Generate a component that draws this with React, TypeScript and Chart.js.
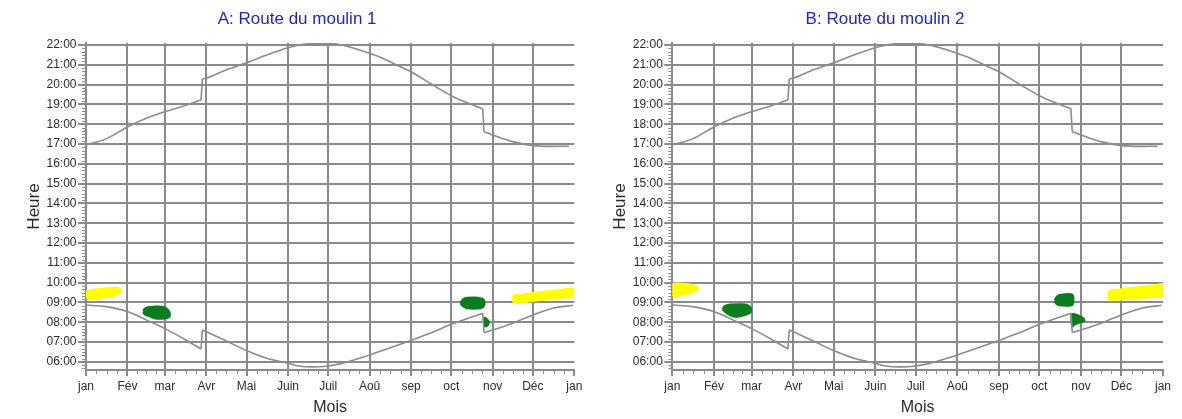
import React, { useEffect, useRef } from 'react';
import { Chart, registerables } from 'chart.js';

Chart.register(...registerables);

// ---- axis data ----
const monthStarts = [0, 31, 59, 90, 120, 151, 181, 212, 243, 273, 304, 334, 365];
const monthLabels = ['jan', 'Fév', 'mar', 'Avr', 'Mai', 'Juin', 'Juil', 'Aoû', 'sep', 'oct', 'nov', 'Déc', 'jan'];
const hourTicks = [6, 7, 8, 9, 10, 11, 12, 13, 14, 15, 16, 17, 18, 19, 20, 21, 22];

// ---- sun curves: [day of year, hour] ----
const sunset: [number, number][] = [
  [0, 16.95], [15, 17.26], [31, 17.86], [45, 18.3], [59, 18.63], [73, 18.92], [86, 19.22],
  [87, 20.28], [90, 20.33], [105, 20.75], [120, 21.1], [135, 21.49], [151, 21.86], [160, 22.0],
  [166, 22.06], [185, 22.06], [197, 21.9], [212, 21.58], [220, 21.38], [235, 20.9], [243, 20.65],
  [257, 20.07], [273, 19.44], [289, 18.97], [296.5, 18.78], [297.5, 17.62], [304, 17.46],
  [319, 17.12], [334, 16.92], [348, 16.88], [361, 16.89],
];

const sunrise: [number, number][] = [
  [0, 8.87], [15, 8.79], [31, 8.54], [45, 8.12], [59, 7.68], [73, 7.17], [86, 6.65],
  [87, 7.61], [90, 7.52], [105, 7.05], [120, 6.57], [135, 6.18], [151, 5.93], [160, 5.78],
  [170, 5.75], [178, 5.77], [190, 5.9], [197, 6.03], [212, 6.35], [228, 6.72], [244, 7.11],
  [258, 7.47], [274, 7.92], [296.5, 8.46], [297.5, 7.48], [304, 7.61], [319, 7.95],
  [334, 8.37], [349, 8.71], [364, 8.86],
];

// ---- shadow periods, panel A (outline [day, hour]) ----
const aYellowJan: [number, number][] = [
  [0.5, 9.22], [0.5, 9.55], [5, 9.62], [12, 9.68], [20, 9.72], [25, 9.7], [25.5, 9.5],
  [22, 9.38], [15, 9.3], [8, 9.2], [2, 9.17],
];
const aGreenFeb: [number, number][] = [
  [43, 8.55], [44, 8.68], [47, 8.76], [53, 8.78], [58, 8.76], [61, 8.62], [62.5, 8.45],
  [62, 8.27], [59, 8.2], [52, 8.2], [48, 8.3], [44, 8.4],
];
const aGreenOct: [number, number][] = [
  [280, 8.98], [282, 9.15], [285, 9.22], [293, 9.22], [297, 9.15], [297.5, 8.85],
  [295, 8.72], [285, 8.72], [282, 8.82],
];
const aGreenNov: [number, number][] = [
  [297.8, 8.25], [301, 8.02], [299, 7.8], [297.8, 7.85],
];
const aYellowDec: [number, number][] = [
  [319.5, 9.0], [319.5, 9.3], [323, 9.38], [330, 9.42], [338, 9.5], [346, 9.55], [354, 9.62],
  [365, 9.68], [365, 9.32], [355, 9.25], [345, 9.18], [335, 9.1], [327, 9.02], [321, 8.97],
];

// ---- shadow periods, panel B ----
const bYellowJan: [number, number][] = [
  [0.3, 9.3], [0.3, 9.9], [5, 9.95], [11, 9.92], [16, 9.85], [19.4, 9.72], [17, 9.58],
  [11, 9.45], [5, 9.35],
];
const bGreenFeb: [number, number][] = [
  [37.5, 8.65], [39, 8.8], [43, 8.88], [52, 8.9], [56, 8.85], [58.3, 8.7], [58, 8.5],
  [55, 8.4], [50, 8.3], [45, 8.32], [41, 8.45],
];
const bGreenOct: [number, number][] = [
  [284.5, 9.1], [286.5, 9.3], [289, 9.38], [297.5, 9.38], [297.7, 8.9], [295, 8.85],
  [288, 8.87], [285.5, 8.95],
];
const bGreenNov: [number, number][] = [
  [297, 8.42], [300, 8.38], [303, 8.3], [305.5, 8.2], [306.3, 8.08], [303, 8.0],
  [299.5, 7.9], [297.5, 7.82],
];
const bYellowDec: [number, number][] = [
  [325, 9.15], [325, 9.55], [330, 9.62], [337, 9.68], [345, 9.74], [353, 9.8],
  [360, 9.86], [365, 9.9], [365, 9.32], [357, 9.28], [348, 9.24], [339, 9.2], [331, 9.15],
  [327, 9.12],
];

const FONT = "'Liberation Sans', Arial, sans-serif";
const GRID = '#8a8a8a';
const CURVE = '#8c8c8c';
const TEXT = '#2a2a2a';
const YELLOW = '#ffff00';
const GREEN = '#0b7d1f';

const toXY = (pts: [number, number][]) => pts.map(([x, y]) => ({ x, y }));
const closed = (pts: [number, number][]) => toXY([...pts, pts[0]]);

// split a curve at its clock-change jumps: smooth pieces + straight jump pieces
function splitAtJumps(pts: [number, number][]) {
  const smooth: [number, number][][] = [];
  const jumps: [number, number][][] = [];
  let cur: [number, number][] = [pts[0]];
  for (let i = 1; i < pts.length; i++) {
    if (pts[i][0] - pts[i - 1][0] <= 1.5) {
      smooth.push(cur);
      jumps.push([pts[i - 1], pts[i]]);
      cur = [pts[i]];
    } else {
      cur.push(pts[i]);
    }
  }
  smooth.push(cur);
  return { smooth, jumps };
}

const minorTicks = {
  id: 'minorTicks',
  afterDraw(chart: any) {
    const { ctx, scales } = chart;
    const x = scales.x;
    const y = scales.y;
    ctx.save();
    ctx.strokeStyle = GRID;
    ctx.lineWidth = 1;
    ctx.beginPath();
    for (let m = 0; m < 12; m++) {
      const a = monthStarts[m];
      const b = monthStarts[m + 1];
      for (let k = 1; k < 4; k++) {
        const px = Math.round(x.getPixelForValue(a + ((b - a) * k) / 4)) + 0.5;
        ctx.moveTo(px, y.bottom);
        ctx.lineTo(px, y.bottom + 4);
      }
    }
    for (let h = 5; h <= 22; h++) {
      for (let k = 1; k < 6; k++) {
        const v = h + k / 6;
        if (v < y.min || v > y.max) continue;
        const py = Math.round(y.getPixelForValue(v)) + 0.5;
        ctx.moveTo(x.left - 4, py);
        ctx.lineTo(x.left, py);
      }
    }
    ctx.stroke();
    ctx.restore();
  },
};

function blob(pts: [number, number][], color: string) {
  return {
    data: closed(pts),
    borderColor: color,
    backgroundColor: color,
    borderWidth: 2.5,
    borderJoinStyle: 'round',
    fill: 'shape',
    pointRadius: 0,
    tension: 0.3,
  };
}

function curveSets(pts: [number, number][]) {
  const { smooth, jumps } = splitAtJumps(pts);
  const base = { borderColor: CURVE, borderWidth: 1.6, pointRadius: 0, fill: false };
  return [
    ...smooth.map((s) => ({ ...base, data: toXY(s), cubicInterpolationMode: 'monotone' })),
    ...jumps.map((j) => ({ ...base, data: toXY(j), tension: 0 })),
  ];
}

function makeConfig(
  title: string,
  blobs: { pts: [number, number][]; color: string }[],
  leftWidth: number,
  rightPad: number,
  heurePad: number,
): any {
  return {
    type: 'line',
    data: {
      datasets: [
        ...curveSets(sunset),
        ...curveSets(sunrise),
        ...blobs.map((b) => blob(b.pts, b.color)),
      ],
    },
    plugins: [minorTicks],
    options: {
      responsive: false,
      animation: false,
      events: [],
      layout: { padding: { left: 0, right: rightPad, top: 0, bottom: 0 } },
      plugins: {
        legend: { display: false },
        tooltip: { enabled: false },
        title: {
          display: true,
          text: title,
          color: '#2323c8',
          font: { family: FONT, size: 17, weight: 'normal' },
          padding: { top: 8.9, bottom: 13.7 },
        },
      },
      scales: {
        x: {
          type: 'linear',
          min: 0,
          max: 365,
          afterBuildTicks: (s: any) => {
            s.ticks = monthStarts.map((v) => ({ value: v }));
          },
          afterFit: (s: any) => {
            s.height = 49;
          },
          ticks: {
            autoSkip: false,
            maxRotation: 0,
            padding: 3,
            color: TEXT,
            font: { family: FONT, size: 12 },
            callback: (_v: any, i: number) => monthLabels[i],
          },
          grid: {
            color: (c: any) => (c.index === monthStarts.length - 1 ? 'rgba(0,0,0,0)' : GRID),
            tickColor: GRID,
            lineWidth: 2,
            tickLength: 6,
          },
          border: { display: true, color: GRID, width: 2 },
          title: {
            display: true,
            text: 'Mois',
            color: TEXT,
            font: { family: FONT, size: 16 },
            padding: { top: 0, bottom: 1.6 },
          },
        },
        y: {
          type: 'linear',
          min: 5.59,
          max: 22.1,
          afterBuildTicks: (s: any) => {
            s.ticks = hourTicks.map((v) => ({ value: v }));
          },
          afterFit: (s: any) => {
            s.width = leftWidth;
          },
          ticks: {
            padding: 1.5,
            color: TEXT,
            font: { family: FONT, size: 12 },
            callback: (v: any) => String(v).padStart(2, '0') + ':00',
          },
          grid: { color: GRID, lineWidth: 2, tickLength: 8 },
          border: { display: true, color: GRID, width: 2 },
          title: {
            display: true,
            text: 'Heure',
            color: TEXT,
            font: { family: FONT, size: 17 },
            padding: { top: heurePad, bottom: 0 },
          },
        },
      },
    },
  };
}

export default function App() {
  const aRef = useRef<HTMLCanvasElement>(null);
  const bRef = useRef<HTMLCanvasElement>(null);

  useEffect(() => {
    const a = new Chart(
      aRef.current as HTMLCanvasElement,
      makeConfig(
        'A: Route du moulin 1',
        [
          { pts: aYellowJan, color: YELLOW },
          { pts: aGreenFeb, color: GREEN },
          { pts: aGreenOct, color: GREEN },
          { pts: aGreenNov, color: GREEN },
          { pts: aYellowDec, color: YELLOW },
        ],
        66,
        15.7,
        3.9,
      ),
    );
    const b = new Chart(
      bRef.current as HTMLCanvasElement,
      makeConfig(
        'B: Route du moulin 2',
        [
          { pts: bYellowJan, color: YELLOW },
          { pts: bGreenFeb, color: GREEN },
          { pts: bGreenOct, color: GREEN },
          { pts: bGreenNov, color: GREEN },
          { pts: bYellowDec, color: YELLOW },
        ],
        65.3,
        19,
        3.6,
      ),
    );
    return () => {
      a.destroy();
      b.destroy();
    };
  }, []);

  return (
    <div
      style={{
        position: 'absolute',
        left: 0,
        top: 0,
        width: 1182,
        height: 419,
        background: '#fff',
        overflow: 'hidden',
      }}
    >
      <canvas ref={aRef} width={570} height={419} style={{ position: 'absolute', left: 20, top: 0 }} />
      <canvas ref={bRef} width={575} height={419} style={{ position: 'absolute', left: 607, top: 0 }} />
    </div>
  );
}
